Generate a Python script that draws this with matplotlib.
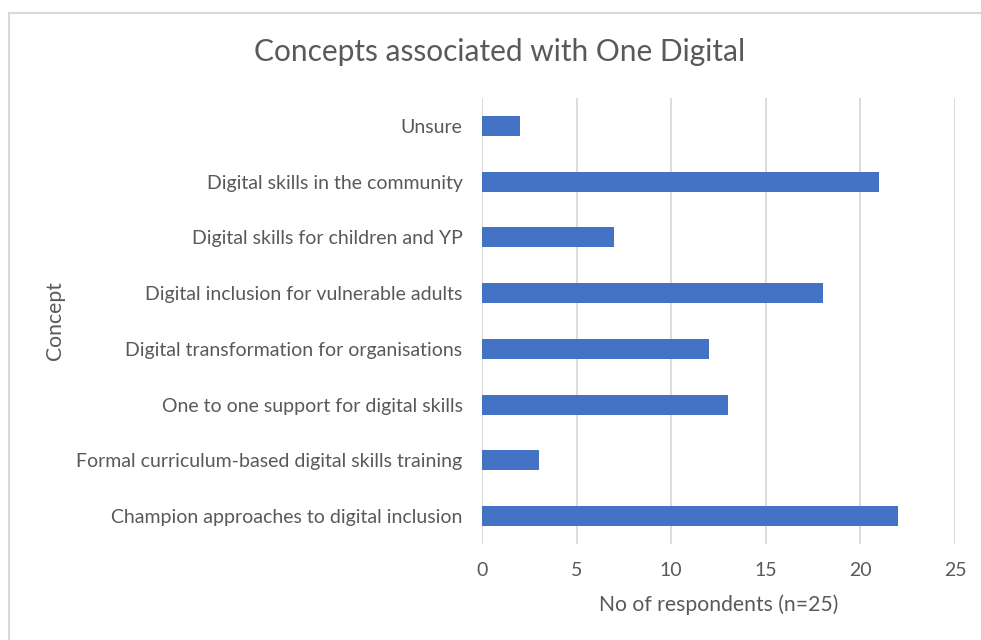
import matplotlib.pyplot as plt
from matplotlib.patches import Rectangle

# data (top to bottom as shown)
concepts = [
    "Unsure",
    "Digital skills in the community",
    "Digital skills for children and YP",
    "Digital inclusion for vulnerable adults",
    "Digital transformation for organisations",
    "One to one support for digital skills",
    "Formal curriculum-based digital skills training",
    "Champion approaches to digital inclusion",
]
respondents = [2, 21, 7, 18, 12, 13, 3, 22]
x_ticks = [0, 5, 10, 15, 20, 25]

text_col = "#595959"
grid_col = "#d9d9d9"
bar_col = "#4472C4"

plt.rcParams['font.family'] = ['Lato', 'DejaVu Sans']

fig = plt.figure(figsize=(9.81, 6.4), dpi=100)
fig.patches.append(Rectangle((9 / 981, -0.1), 1.2, 1 - 13 / 640 + 0.1,
                             transform=fig.transFigure, fill=False,
                             edgecolor=grid_col, linewidth=1.5))

ax = fig.add_axes([482 / 981, 1 - 544 / 640, (955 - 482) / 981, (544 - 98) / 640])

ypos = list(range(len(concepts)))[::-1]
ax.barh(ypos, respondents, height=0.36, color=bar_col, zorder=3)

ax.set_xlim(0, 25)
ax.set_ylim(-0.5, len(concepts) - 0.5)
ax.set_xticks(x_ticks)
ax.set_yticks(ypos)
ax.set_yticklabels(concepts)
ax.grid(axis='x', color=grid_col, linewidth=1.3, zorder=0)
for s in ax.spines.values():
    s.set_visible(False)
ax.tick_params(axis='both', length=0, labelsize=14, colors=text_col)
ax.tick_params(axis='x', pad=13)
ax.tick_params(axis='y', pad=14)

ax.set_xlabel("No of respondents (n=25)", fontsize=15.2, color=text_col, va='center')
ax.xaxis.set_label_coords(0.5, (544 - 605) / 446)
ax.set_ylabel("Concept", fontsize=15.2, color=text_col, va='center')
ax.yaxis.set_label_coords((55 - 482) / 473, 0.5)

fig.text(499.5 / 981, 1 - 52 / 640, "Concepts associated with One Digital",
         ha='center', va='center', fontsize=21.5, color=text_col)

fig.savefig("out.png", dpi=100)
